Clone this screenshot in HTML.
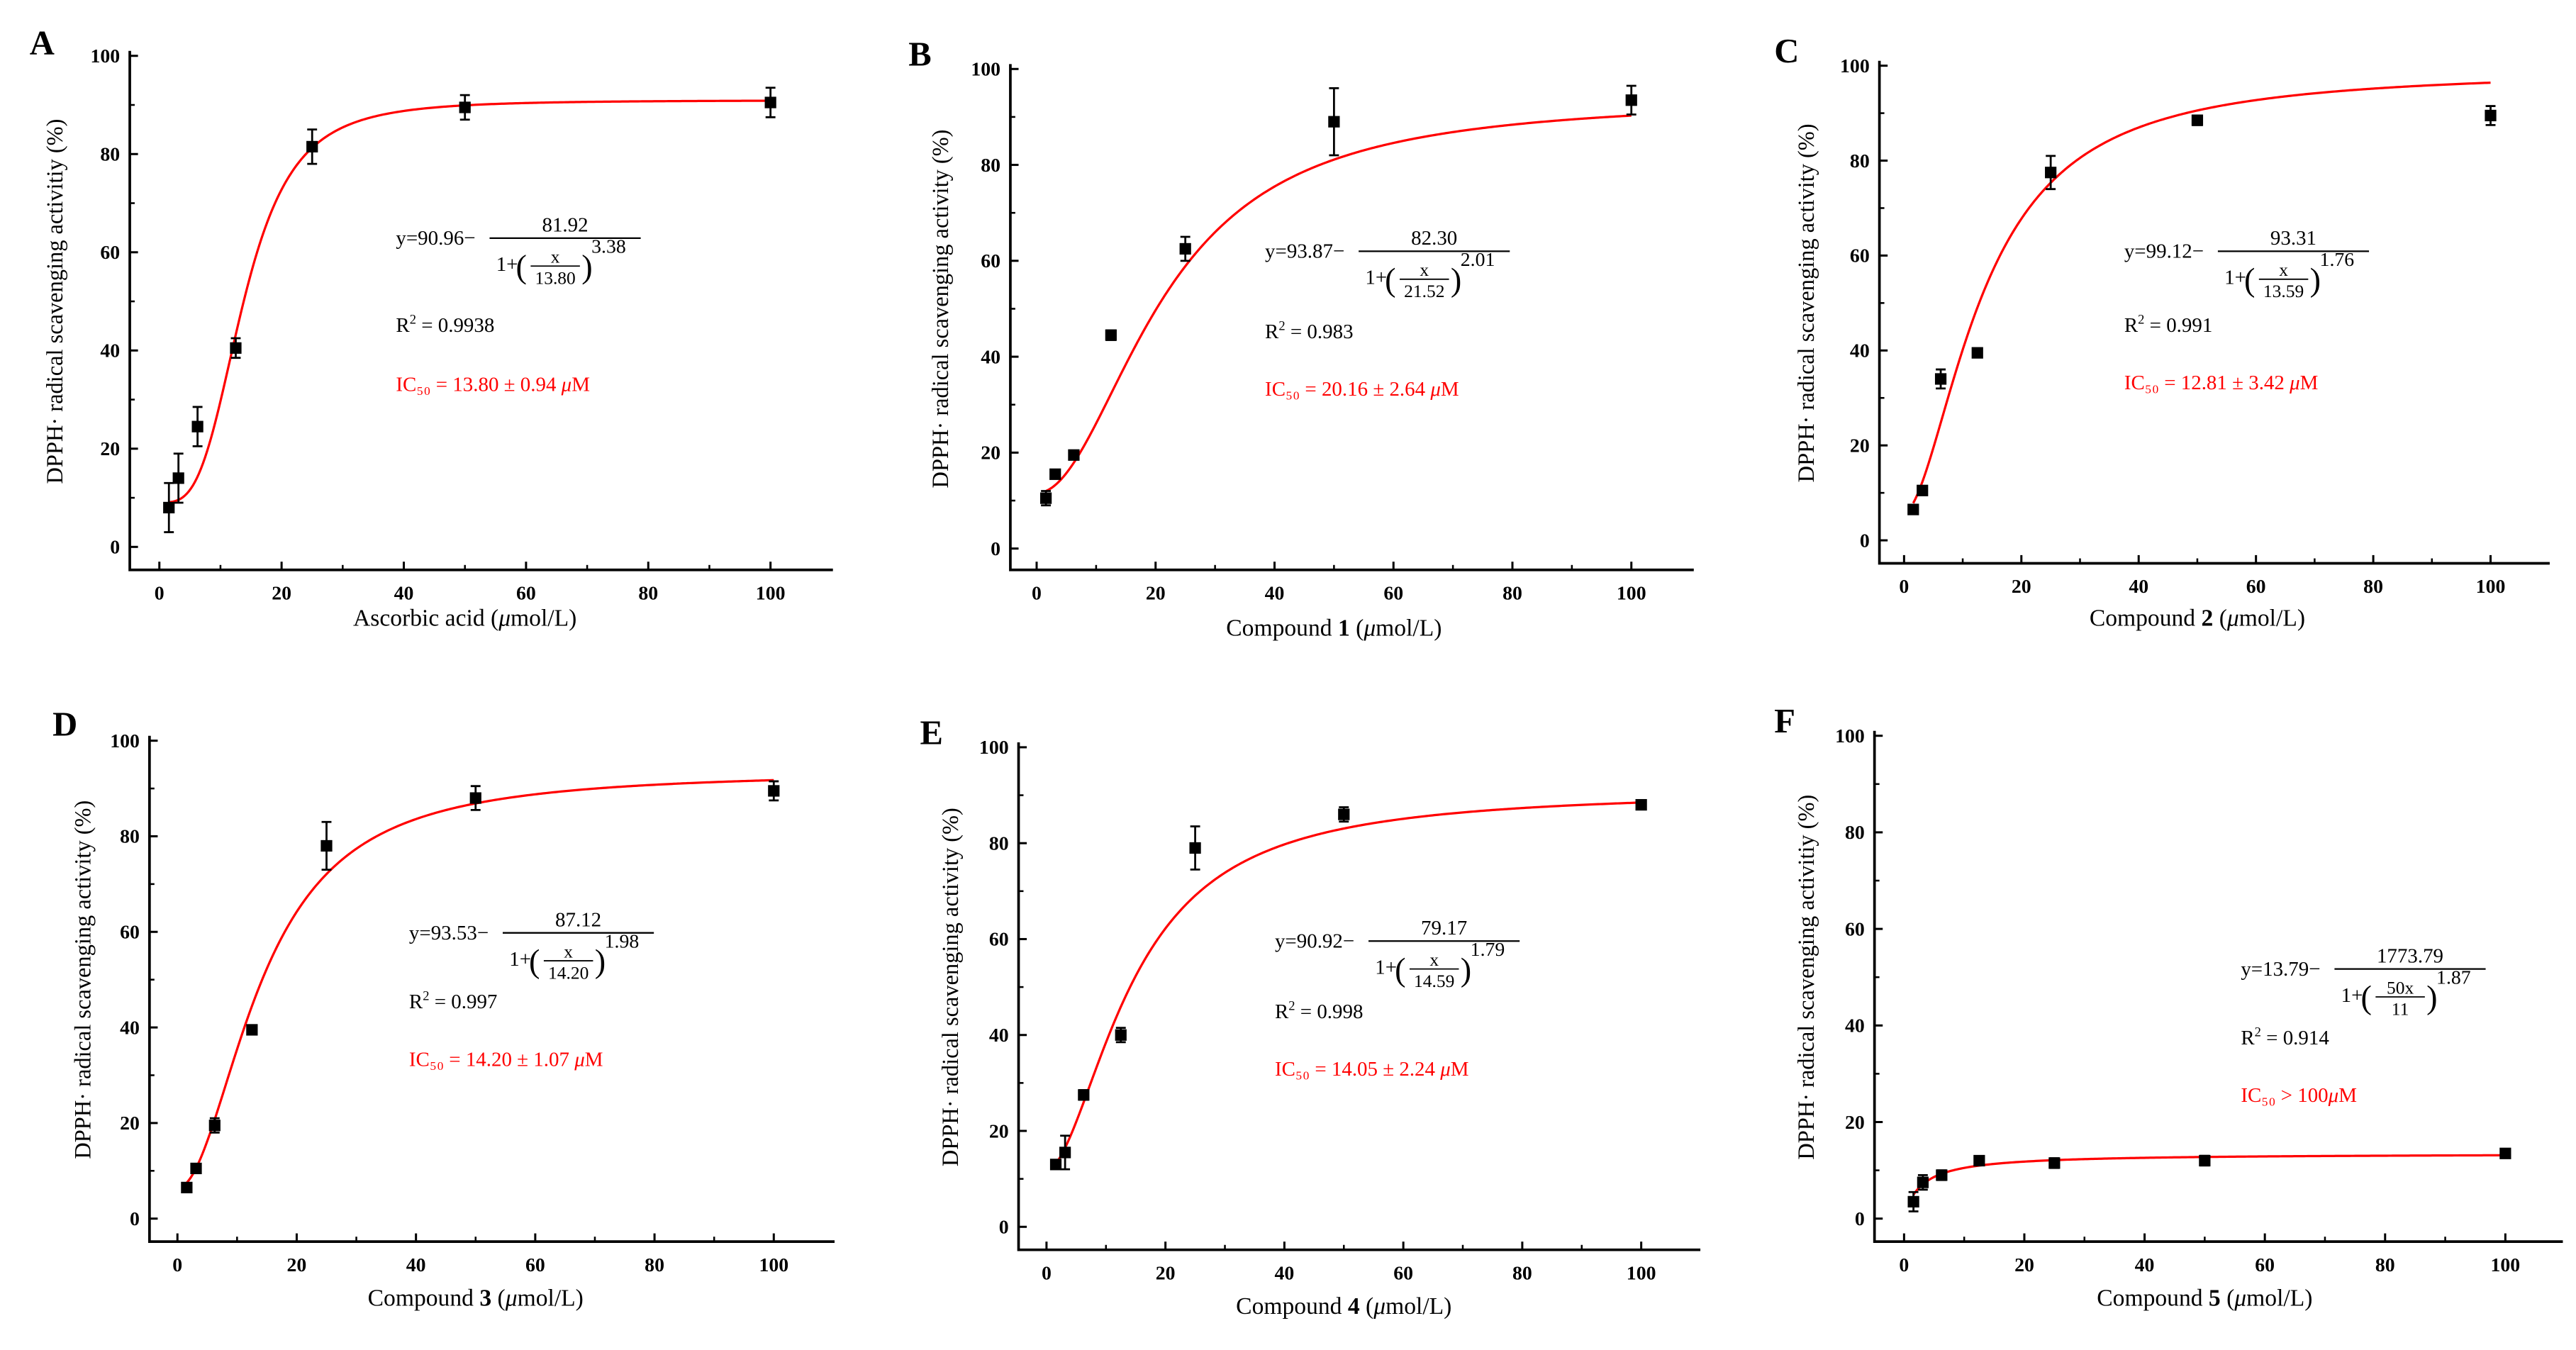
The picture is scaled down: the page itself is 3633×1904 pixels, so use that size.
<!DOCTYPE html>
<html><head><meta charset="utf-8">
<style>
html,body{margin:0;padding:0;background:#fff;}
svg{display:block;font-family:"Liberation Serif",serif;}
</style></head>
<body>
<svg id="fig" width="3633" height="1904" viewBox="0 0 1568 822" preserveAspectRatio="none" xmlns="http://www.w3.org/2000/svg"></svg>
<script>
const concentrations = [1.5625, 3.125, 6.25, 12.5, 25, 50, 100];
const valuesA = [8, 14, 24.5, 40.5, 81.5, 89.5, 90.5];
const errorsA = [5, 5, 4, 2, 3.5, 2.5, 3];
const valuesB = [10.5, 15.5, 19.5, 44.5, 62.5, 89, 93.5];
const errorsB = [1.5, 0.8, 0.6, 1, 2.5, 7, 3];
const valuesC = [6.5, 10.5, 34, 39.5, 77.5, 88.5, 89.5];
const errorsC = [0.6, 0.6, 2, 0.6, 3.5, 1, 2];
const valuesD = [6.5, 10.5, 19.5, 39.5, 78, 88, 89.5];
const errorsD = [0.6, 0.6, 1.5, 0.6, 5, 2.5, 2];
const valuesE = [13, 15.5, 27.5, 40, 79, 86, 88];
const errorsE = [0.6, 3.5, 1, 1.5, 4.5, 1.5, 0.6];
const valuesF = [3.5, 7.5, 9, 12, 11.5, 12, 13.5];
const errorsF = [2, 1.5, 1, 0.6, 1, 1, 0.8];
const fitA = [90.96, 81.92, 13.80, 3.38];
const fitB = [93.87, 82.30, 21.52, 2.01];
const fitC = [99.12, 93.31, 13.59, 1.76];
const fitD = [93.53, 87.12, 14.20, 1.98];
const fitE = [90.92, 79.17, 14.59, 1.79];
const fitF = [13.5, 13.0, 3.0, 1.0];
const xTicks = [0, 20, 40, 60, 80, 100];
const yTicks = [0, 20, 40, 60, 80, 100];

const panels = [
 {id:'a',letter:'A',L:[18,25],ax:79,y100:34,y0:333,xa:347,x0:97,x100:469,xr:507,vals:valuesA,errs:errorsA,fit:fitA,
  xt:['Ascorbic acid (',''],xty:381,yt:'DPPH· radical scavenging activitiy (%)',ytx:38,
  eq:['y=90.96−','81.92','13.80','3.38'],ex:241,ey:145,r2:'0.9938',ry:198,ic:'IC₅₀ = 13.80 ± 0.94 ',icy:234},
 {id:'b',letter:'B',L:[553,32],ax:615,y100:42,y0:334,xa:347,x0:631,x100:993,xr:1031,vals:valuesB,errs:errorsB,fit:fitB,
  xt:['Compound ','1'],xty:387,yt:'DPPH· radical scavenging activity (%)',ytx:577,
  eq:['y=93.87−','82.30','21.52','2.01'],ex:770,ey:153,r2:'0.983',ry:202,ic:'IC₅₀ = 20.16 ± 2.64 ',icy:237},
 {id:'c',letter:'C',L:[1080,30],ax:1144,y100:40,y0:329,xa:343,x0:1159,x100:1516,xr:1552,vals:valuesC,errs:errorsC,fit:fitC,
  xt:['Compound ','2'],xty:381,yt:'DPPH· radical scavenging activity (%)',ytx:1104,
  eq:['y=99.12−','93.31','13.59','1.76'],ex:1293,ey:153,r2:'0.991',ry:198,ic:'IC₅₀ = 12.81 ± 3.42 ',icy:233},
 {id:'d',letter:'D',L:[32,440],ax:91,y100:451,y0:742,xa:756,x0:108,x100:471,xr:508,vals:valuesD,errs:errorsD,fit:fitD,
  xt:['Compound ','3'],xty:795,yt:'DPPH· radical scavenging activity (%)',ytx:55,
  eq:['y=93.53−','87.12','14.20','1.98'],ex:249,ey:568,r2:'0.997',ry:610,ic:'IC₅₀ = 14.20 ± 1.07 ',icy:645},
 {id:'e',letter:'E',L:[560,445],ax:620,y100:455,y0:747,xa:761,x0:637,x100:999,xr:1035,vals:valuesE,errs:errorsE,fit:fitE,
  xt:['Compound ','4'],xty:800,yt:'DPPH· radical scavenging activity (%)',ytx:583,
  eq:['y=90.92−','79.17','14.59','1.79'],ex:776,ey:573,r2:'0.998',ry:616,ic:'IC₅₀ = 14.05 ± 2.24 ',icy:651},
 {id:'f',letter:'F',L:[1080,438],ax:1141,y100:448,y0:742,xa:756,x0:1159,x100:1525,xr:1560,vals:valuesF,errs:errorsF,fit:fitF,
  xt:['Compound ','5'],xty:795,yt:'DPPH· radical scavenging activitiy (%)',ytx:1104,
  eq:['y=13.79−','1773.79','11','1.87'],num50:true,ex:1364,ey:590,r2:'0.914',ry:632,ic:'IC₅₀ > 100',icy:667}
];
const NS='http://www.w3.org/2000/svg';
const svg=document.getElementById('fig');
function mk(tag,attrs,parent,text){const e=document.createElementNS(NS,tag);for(const k in attrs)e.setAttribute(k,attrs[k]);if(text!==undefined)e.textContent=text;parent.appendChild(e);return e;}

panels.forEach(p=>{
  const g=mk('g',{},svg);
  
  
  const X=v=>p.x0+(p.x100-p.x0)*v/100;
  const Y=v=>p.y0+(p.y100-p.y0)*v/100;
  const yTop=p.y100-3;
  const lab=mk('text',{x:p.L[0],y:p.L[1]+8,'font-size':21,'font-weight':'bold'},g,p.letter);
  
  
  const axes=mk('path',{d:`M${p.ax},${yTop}V${p.xa}H${p.xr}`,stroke:'#000','stroke-width':1.6,fill:'none'},g);
  
  
  yTicks.forEach(t=>{
    mk('line',{x1:p.ax,x2:p.ax+5,y1:Y(t),y2:Y(t),stroke:'#000','stroke-width':1.3},g);
    const tl=mk('text',{x:p.ax-6,y:Y(t)+4,'font-size':12,'font-weight':'bold','text-anchor':'end'},g,t);
    
    
    if(t<100)mk('line',{x1:p.ax,x2:p.ax+3,y1:Y(t+10),y2:Y(t+10),stroke:'#000','stroke-width':1.1},g);
  });
  xTicks.forEach(t=>{
    mk('line',{x1:X(t),x2:X(t),y1:p.xa,y2:p.xa-5,stroke:'#000','stroke-width':1.3},g);
    const tl=mk('text',{x:X(t),y:p.xa+18,'font-size':12,'font-weight':'bold','text-anchor':'middle'},g,t);
    
    
    if(t<100)mk('line',{x1:X(t+10),x2:X(t+10),y1:p.xa,y2:p.xa-3,stroke:'#000','stroke-width':1.1},g);
  });
  const xt=mk('text',{x:(p.x0+p.x100)/2,y:p.xty,'font-size':14.5,'text-anchor':'middle'},g);
  
  
  mk('tspan',{},xt,p.xt[0]);
  if(p.xt[1]){mk('tspan',{'font-weight':'bold'},xt,p.xt[1]);mk('tspan',{},xt,' (');}
  mk('tspan',{'font-style':'italic'},xt,'μ');mk('tspan',{},xt,'mol/L)');
  const cy=(p.y0+p.y100)/2;
  const yt=mk('text',{x:p.ytx,y:cy,'font-size':14,'text-anchor':'middle',transform:`rotate(-90 ${p.ytx} ${cy})`},g,p.yt);
  
  
  const [a,b,c,pw]=p.fit;
  let d='';
  for(let i=0;i<=300;i++){const x=concentrations[0]+(100-concentrations[0])*i/300;const y=a-b/(1+Math.pow(x/c,pw));d+=(i?'L':'M')+X(x).toFixed(2)+','+Y(y).toFixed(2);}
  const cv=mk('path',{d,stroke:'#ff0000','stroke-width':1.4,fill:'none'},g);
  
  
  concentrations.forEach((x,i)=>{
    const v=p.vals[i],e=p.errs[i];const px=X(x),py=Y(v);
    const eb=mk('path',{d:`M${px},${Y(v-e)}V${Y(v+e)}M${px-3},${Y(v-e)}H${px+3}M${px-3},${Y(v+e)}H${px+3}`,stroke:'#000','stroke-width':1.2,fill:'none'},g);
    
    
    const pt=mk('rect',{x:px-3.5,y:py-3.5,width:7,height:7,fill:'#000'},g);
    
    
  });
  const eg=mk('g',{'font-size':12.5},g);
  
  
  const ex=p.ex,ey=p.ey;
  mk('text',{x:ex,y:ey+4},eg,p.eq[0]);
  const fx0=ex+57,fx1=fx0+92;
  mk('line',{x1:fx0,x2:fx1,y1:ey,y2:ey,stroke:'#000','stroke-width':1},eg);
  mk('text',{x:(fx0+fx1)/2,y:ey-4,'text-anchor':'middle'},eg,p.eq[1]);
  mk('text',{x:fx0+4,y:ey+20},eg,'1+');
  mk('text',{x:fx0+16,y:ey+24,'font-size':20},eg,'(');
  const ix=fx0+40;
  mk('text',{x:ix,y:ey+15,'text-anchor':'middle','font-size':11},eg,p.num50?'50x':'x');
  mk('line',{x1:ix-15,x2:ix+15,y1:ey+17,y2:ey+17,stroke:'#000','stroke-width':0.8},eg);
  mk('text',{x:ix,y:ey+28,'text-anchor':'middle','font-size':11},eg,p.eq[2]);
  mk('text',{x:ix+16,y:ey+24,'font-size':20},eg,')');
  mk('text',{x:ix+22,y:ey+9,'font-size':12},eg,p.eq[3]);
  const r=mk('text',{x:ex,y:p.ry+4,'font-size':12.5},g);
  
  
  mk('tspan',{},r,'R');mk('tspan',{dy:-5,'font-size':8},r,'2');mk('tspan',{dy:5},r,' = '+p.r2);
  const ic=mk('text',{x:ex,y:p.icy+4,'font-size':12.5,fill:'#ff0000'},g);
  
  
  mk('tspan',{},ic,p.ic);mk('tspan',{'font-style':'italic'},ic,'μ');mk('tspan',{},ic,'M');
});
</script>
</body></html>
